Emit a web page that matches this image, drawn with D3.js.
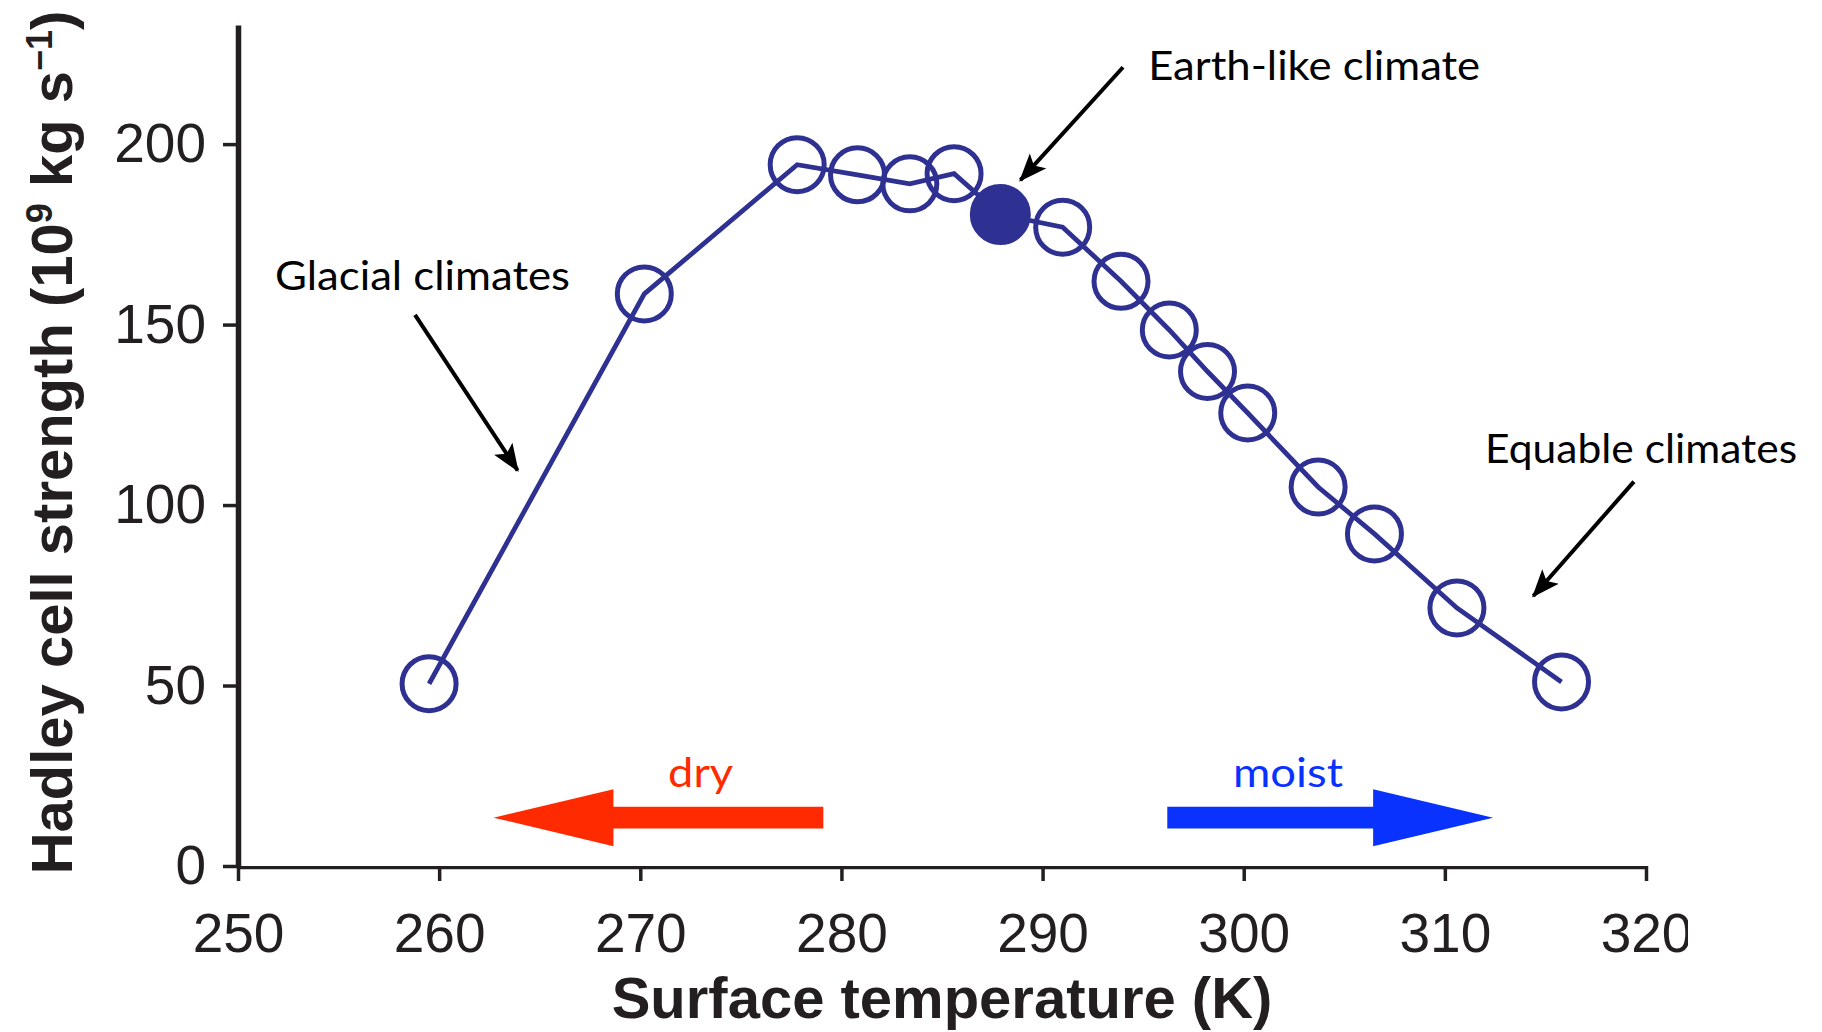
<!DOCTYPE html>
<meta charset="utf-8">
<style>
  body { margin: 0; background: #fff; }
  text { fill: #231f20; }
  .axis path, .axis line { stroke: #231f20; }
  .note { font-family: Lato, "Open Sans", sans-serif; font-size: 40px; }
</style>
<body></body>
<script src="https://cdn.jsdelivr.net/npm/d3@7"></script>
<script>
  const width = 1822
  const height = 1032

  // surface temperature (K) and Hadley cell strength (1e9 kg/s) of each simulation
  const temperature = [259.5, 270.2, 277.8, 280.8, 283.4, 285.6, 287.9, 291.0, 293.9, 296.3, 298.2, 300.2, 303.7, 306.5, 310.6, 315.8]
  const strength = [50.5, 158.5, 194.3, 191.5, 189.0, 191.8, 180.5, 177.0, 162.0, 148.5, 137.0, 125.5, 105.0, 92.0, 71.5, 51.0]
  const earthIndex = 6 // the filled marker

  const xTicks = [250, 260, 270, 280, 290, 300, 310, 320]
  const yTicks = [0, 50, 100, 150, 200]

  // annotations, in data units (K, 1e9 kg/s)
  const noteText = ["Earth-like climate", "Glacial climates", "Equable climates"]
  const noteAt = [[295.25, 217.7], [251.84, 159.6], [312.0, 111.6]]
  const noteWidth = [332, 295, 312]
  const arrowFrom = [[294.0, 221.3], [258.8, 152.7], [319.4, 106.5]]
  const arrowTo = [[288.9, 190.0], [263.9, 109.6], [314.4, 74.8]]

  // dry / moist block arrows
  const trendText = ["dry", "moist"]
  const trendTail = [279.1, 296.2]
  const trendTip = [262.7, 312.4]
  const trendLevel = 13.4
  const trendLabelAt = [273.0, 302.2]
  const trendLabelLevel = 21.9
  const trendColor = ["#ff2a00", "#0a32ff"]
  const trendWidth = [65, 110]

  const navy = "#2e3192"

  const x = d3.scaleLinear().domain([250, 320]).range([238, 1646])
  const y = d3.scaleLinear().domain([0, 233]).range([866, 25])

  const svg = d3.select("body").append("svg")
    .attr("width", width)
    .attr("height", height)

  const defs = svg.append("defs")
  // the original figure is cropped just through the last tick label
  defs.append("clipPath").attr("id", "crop")
    .append("rect").attr("x", 0).attr("y", 0).attr("width", 1688).attr("height", height)
  defs.append("marker")
    .attr("id", "head")
    .attr("markerUnits", "userSpaceOnUse")
    .attr("viewBox", "0 -12 28 24")
    .attr("refX", 26).attr("refY", 0)
    .attr("markerWidth", 28).attr("markerHeight", 24)
    .attr("orient", "auto")
    .append("path")
    .attr("d", "M0,-11L28,0L0,11L6,0Z")
    .attr("fill", "#000")

  // axes
  const xAxis = d3.axisBottom(x).tickValues(xTicks).tickSize(15).tickSizeOuter(0).tickPadding(32)
  const yAxis = d3.axisLeft(y).tickValues(yTicks).tickSize(15).tickSizeOuter(0).tickPadding(17)

  const gx = svg.append("g")
    .attr("class", "axis")
    .attr("transform", `translate(0, ${y(0)})`)
    .attr("clip-path", "url(#crop)")
    .call(xAxis)

  const gy = svg.append("g")
    .attr("class", "axis")
    .attr("transform", `translate(${x(250)}, 0)`)
    .call(yAxis)

  for (const g of [gx, gy]) {
    g.select(".domain").attr("stroke-width", 5.5)
    g.selectAll(".tick line").attr("stroke-width", 3.5)
    g.selectAll(".tick text")
      .attr("font-family", "'Liberation Sans', Arial, sans-serif")
      .attr("font-size", 55)
      .attr("fill", "#231f20")
  }

  svg.append("text")
    .attr("x", (x.range()[0] + x.range()[1]) / 2)
    .attr("y", 1018)
    .attr("text-anchor", "middle")
    .attr("font-family", "'Liberation Sans', Arial, sans-serif")
    .attr("font-weight", "bold")
    .attr("font-size", 58)
    .text("Surface temperature (K)")

  const yTitle = svg.append("text")
    .attr("transform", `translate(72, ${(y.range()[0] + y.range()[1]) / 2 - 3}) rotate(-90)`)
    .attr("text-anchor", "middle")
    .attr("font-family", "'Liberation Sans', Arial, sans-serif")
    .attr("font-weight", "bold")
    .attr("font-size", 58)
  yTitle.append("tspan").text("Hadley cell strength (10")
  yTitle.append("tspan").attr("font-size", 36).attr("dy", -20).text("9")
  yTitle.append("tspan").attr("dy", 20).text(" kg s")
  yTitle.append("tspan").attr("font-size", 36).attr("dy", -20).text("\u22121")
  yTitle.append("tspan").attr("dy", 20).text(")")

  // dry / moist
  trendText.forEach((label, i) => {
    const x0 = x(trendTail[i])
    const x1 = x(trendTip[i])
    const c = y(trendLevel)
    const dir = Math.sign(x1 - x0)
    const xb = x1 - dir * 120 // base of the head
    const shaft = 10.8
    const head = 28.5
    svg.append("path")
      .attr("d", `M${x0},${c - shaft}L${xb},${c - shaft}L${xb},${c - head}L${x1},${c}L${xb},${c + head}L${xb},${c + shaft}L${x0},${c + shaft}Z`)
      .attr("fill", trendColor[i])

    svg.append("text")
      .attr("class", "note")
      .attr("x", x(trendLabelAt[i]))
      .attr("y", y(trendLabelLevel))
      .attr("text-anchor", "middle")
      .attr("textLength", trendWidth[i])
      .attr("lengthAdjust", "spacingAndGlyphs")
      .style("fill", trendColor[i])
      .text(label)
  })

  // annotation arrows and labels
  noteText.forEach((label, i) => {
    svg.append("line")
      .attr("x1", x(arrowFrom[i][0]))
      .attr("y1", y(arrowFrom[i][1]))
      .attr("x2", x(arrowTo[i][0]))
      .attr("y2", y(arrowTo[i][1]))
      .attr("stroke", "#000")
      .attr("stroke-width", 4)
      .attr("marker-end", "url(#head)")

    svg.append("text")
      .attr("class", "note")
      .attr("x", x(noteAt[i][0]))
      .attr("y", y(noteAt[i][1]))
      .attr("textLength", noteWidth[i])
      .attr("lengthAdjust", "spacingAndGlyphs")
      .style("fill", "#000")
      .text(label)
  })

  // the series
  const points = temperature.map((t, i) => ({ t, v: strength[i], earth: i === earthIndex }))

  const line = d3.line()
    .x(d => x(d.t))
    .y(d => y(d.v))

  svg.append("path")
    .datum(points)
    .attr("d", line)
    .attr("fill", "none")
    .attr("stroke", navy)
    .attr("stroke-width", 4.8)
    .attr("stroke-linejoin", "miter")

  svg.append("g")
    .selectAll("circle")
    .data(points)
    .enter()
    .append("circle")
    .attr("cx", d => x(d.t))
    .attr("cy", d => y(d.v))
    .attr("r", d => d.earth ? 28 : 27)
    .attr("fill", d => d.earth ? navy : "none")
    .attr("stroke", navy)
    .attr("stroke-width", 5)
</script>
